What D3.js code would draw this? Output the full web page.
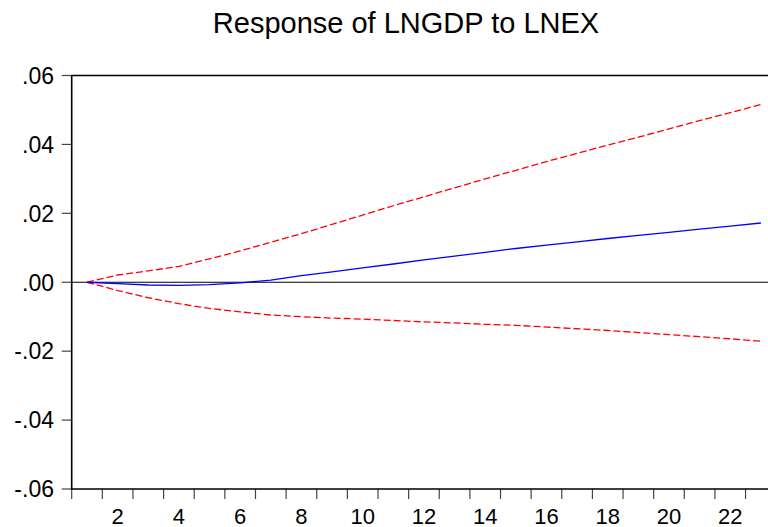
<!DOCTYPE html>
<html>
<head>
<meta charset="utf-8">
<script src="https://cdn.jsdelivr.net/npm/d3@7"></script>
<style>
  body { margin: 0; background: #fff; }
  svg { display: block; font-family: "Liberation Sans", Arial, sans-serif; }
</style>
</head>
<body>
<div id="chart"></div>
<script>
/* impulse response: LNGDP to LNEX */

const periods = d3.range(1, 24);

const response = [0, -0.0004, -0.0008, -0.0009, -0.0007, -0.0002, 0.0006, 0.0019,
  0.0030, 0.0042, 0.0053, 0.0065, 0.0076, 0.0087, 0.0098, 0.0108,
  0.0117, 0.0127, 0.0136, 0.0145, 0.0154, 0.0163, 0.0172];

const upperBand = [0, 0.0021, 0.0033, 0.0046, 0.0068, 0.0091, 0.0116, 0.0141,
  0.0168, 0.0195, 0.0222, 0.0248, 0.0274, 0.0300, 0.0325, 0.0350,
  0.0374, 0.0398, 0.0421, 0.0445, 0.0469, 0.0492, 0.0516];

const lowerBand = [0, -0.0024, -0.0045, -0.0062, -0.0076, -0.0086, -0.0095, -0.0100,
  -0.0104, -0.0107, -0.0111, -0.0115, -0.0118, -0.0122, -0.0125, -0.0130,
  -0.0135, -0.0140, -0.0146, -0.0152, -0.0158, -0.0164, -0.0171];

const yTicks = [-0.06, -0.04, -0.02, 0, 0.02, 0.04, 0.06];
const yTickLabels = ["-.06", "-.04", "-.02", ".00", ".02", ".04", ".06"];
const xLabelPeriods = [2, 4, 6, 8, 10, 12, 14, 16, 18, 20, 22];

(() => {
  'use strict';

  const size = { width: 768, height: 527 };
  // plot box; the right side runs past the window, as in the source image
  const box = { left: 71.7, top: 75.5, bottom: 489, band: 30.63 };

  const xScale = d3.scaleBand()
    .domain(periods)
    .range([box.left, box.left + box.band * periods.length])
    .padding(0);

  const yScale = d3.scaleLinear()
    .domain([-0.06, 0.06])
    .range([box.bottom, box.top]);

  const xMid = k => xScale(k) + xScale.bandwidth() / 2;

  const svg = d3.select("#chart").append("svg")
    .attr("width", size.width)
    .attr("height", size.height);

  svg.append("text")
    .attr("x", 406)
    .attr("y", 33)
    .attr("text-anchor", "middle")
    .style("font-size", "29px")
    .text("Response of LNGDP to LNEX");

  const plotRight = xScale.range()[1];

  // y ticks
  const yAxis = svg.append("g");
  yAxis.selectAll("line")
    .data(yTicks)
    .join("line")
    .attr("x1", box.left - 10)
    .attr("x2", box.left)
    .attr("y1", d => yScale(d))
    .attr("y2", d => yScale(d))
    .attr("stroke", "#444")
    .attr("stroke-width", 1.2);

  yAxis.selectAll("text")
    .data(yTicks)
    .join("text")
    .attr("x", 54)
    .attr("y", d => yScale(d) + 8.3)
    .attr("text-anchor", "end")
    .style("font-size", "23px")
    .text((d, i) => yTickLabels[i]);

  // x ticks at band edges
  const xEdges = periods.map(k => xScale(k)).concat([plotRight]);
  const xAxis = svg.append("g");
  xAxis.selectAll("line")
    .data(xEdges)
    .join("line")
    .attr("x1", d => d)
    .attr("x2", d => d)
    .attr("y1", box.bottom)
    .attr("y2", box.bottom + 10)
    .attr("stroke", "#444")
    .attr("stroke-width", 1.2);

  xAxis.selectAll("text")
    .data(xLabelPeriods)
    .join("text")
    .attr("x", d => xMid(d))
    .attr("y", 523.5)
    .attr("text-anchor", "middle")
    .style("font-size", "22px")
    .text(d => d);

  // frame
  svg.append("path")
    .attr("d", "M" + plotRight + "," + box.top + "H" + box.left + "V" + box.bottom + "H" + plotRight)
    .attr("fill", "none")
    .attr("stroke", "#000")
    .attr("stroke-width", 1.6);

  svg.append("line")
    .attr("x1", box.left)
    .attr("x2", plotRight)
    .attr("y1", yScale(0))
    .attr("y2", yScale(0))
    .attr("stroke", "#000")
    .attr("stroke-width", 1);

  const line = d3.line()
    .x((d, i) => xMid(periods[i]))
    .y(d => yScale(d));

  [upperBand, lowerBand].forEach(band => {
    svg.append("path")
      .datum(band)
      .attr("d", line)
      .attr("fill", "none")
      .attr("stroke", "#ff0000")
      .attr("stroke-width", 1.3)
      .attr("stroke-dasharray", "7,3");
  });

  svg.append("path")
    .datum(response)
    .attr("d", line)
    .attr("fill", "none")
    .attr("stroke", "#0000ff")
    .attr("stroke-width", 1.3);
})();
</script>
</body>
</html>
